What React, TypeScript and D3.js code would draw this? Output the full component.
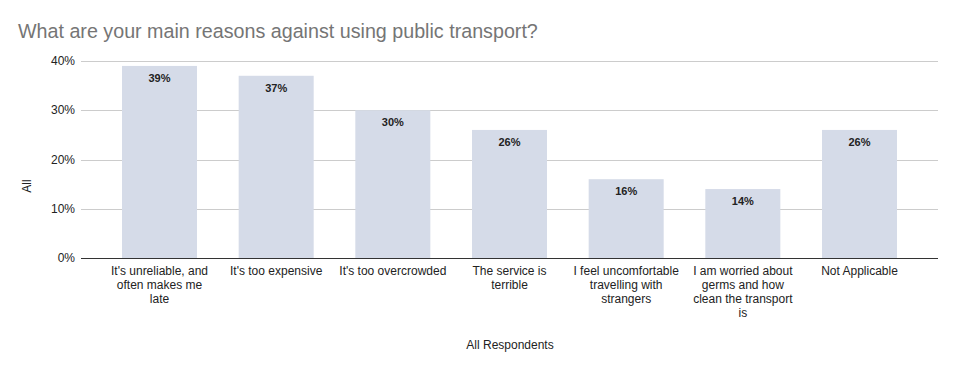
import React, { useRef, useEffect } from "react";
import * as d3 from "d3";

const categories = [
  "It's unreliable, and often makes me late",
  "It's too expensive",
  "It's too overcrowded",
  "The service is terrible",
  "I feel uncomfortable travelling with strangers",
  "I am worried about germs and how clean the transport is",
  "Not Applicable",
];
const categoryLines = [
  ["It's unreliable, and", "often makes me", "late"],
  ["It's too expensive"],
  ["It's too overcrowded"],
  ["The service is", "terrible"],
  ["I feel uncomfortable", "travelling with", "strangers"],
  ["I am worried about", "germs and how", "clean the transport", "is"],
  ["Not Applicable"],
];
const values = [0.39, 0.37, 0.30, 0.26, 0.16, 0.14, 0.26];
const yTicks = [0, 0.1, 0.2, 0.3, 0.4];

const App = () => {
  const ref = useRef<SVGSVGElement>(null);

  const layout = { width: 957, height: 371, left: 81, right: 938, top: 61, bottom: 258 };

  useEffect(() => {
    const svg = d3.select(ref.current);
    svg.selectAll("*").remove();
    const font = "Arial, 'Liberation Sans', sans-serif";

    const x = d3.scaleBand<string>()
      .domain(categories)
      .range([101, 918])
      .paddingInner(0.357)
      .paddingOuter(0.18);

    const y = d3.scaleLinear().domain([0, 0.4]).range([layout.bottom, layout.top]);

    svg.append("rect").attr("width", layout.width).attr("height", layout.height).attr("fill", "#fff");

    svg.append("text")
      .attr("x", 18).attr("y", 38)
      .attr("font-family", font).attr("font-size", 19.7)
      .attr("fill", "#757575")
      .text("What are your main reasons against using public transport?");

    // gridlines
    svg.append("g").selectAll("line")
      .data(yTicks.slice(1))
      .join("line")
      .attr("x1", layout.left).attr("x2", layout.right)
      .attr("y1", d => Math.round(y(d)) + 0.5).attr("y2", d => Math.round(y(d)) + 0.5)
      .attr("stroke", "#cccccc");

    svg.append("g").selectAll("text")
      .data(yTicks)
      .join("text")
      .attr("x", 75).attr("y", d => y(d) + 4)
      .attr("text-anchor", "end")
      .attr("font-family", font).attr("font-size", 12)
      .attr("fill", "#222")
      .text(d => d3.format(".0%")(d));

    svg.append("g").selectAll("rect")
      .data(values)
      .join("rect")
      .attr("x", (d, i) => x(categories[i])!)
      .attr("width", x.bandwidth())
      .attr("y", d => y(d))
      .attr("height", d => layout.bottom - y(d))
      .attr("fill", "#d5dbe8");

    svg.append("g").selectAll("text")
      .data(values)
      .join("text")
      .attr("x", (d, i) => x(categories[i])! + x.bandwidth() / 2)
      .attr("y", d => y(d) + 16)
      .attr("text-anchor", "middle")
      .attr("font-family", font).attr("font-size", 11)
      .attr("font-weight", "bold")
      .attr("fill", "#222")
      .text(d => d3.format(".0%")(d));

    // baseline
    svg.append("line")
      .attr("x1", layout.left).attr("x2", layout.right)
      .attr("y1", layout.bottom + 0.5).attr("y2", layout.bottom + 0.5)
      .attr("stroke", "#333");

    const labels = svg.append("g").selectAll("text")
      .data(categoryLines)
      .join("text")
      .attr("text-anchor", "middle")
      .attr("font-family", font).attr("font-size", 12)
      .attr("fill", "#222");
    labels.each(function (lines, i) {
      const cx = x(categories[i])! + x.bandwidth() / 2;
      d3.select(this).selectAll("tspan")
        .data(lines)
        .join("tspan")
        .attr("x", cx)
        .attr("y", (d, j) => 275 + j * 14)
        .text(d => d);
    });

    svg.append("text")
      .attr("x", 510).attr("y", 349)
      .attr("text-anchor", "middle")
      .attr("font-family", font).attr("font-size", 12)
      .attr("fill", "#222")
      .text("All Respondents");

    svg.append("text")
      .attr("transform", `translate(31, 186) rotate(-90)`)
      .attr("text-anchor", "middle")
      .attr("font-family", font).attr("font-size", 12)
      .attr("fill", "#222")
      .text("All");
  }, []);

  return (
    <svg ref={ref} width={957} height={371} style={{ position: "absolute", left: 0, top: 0 }} />
  );
};

export default App;
